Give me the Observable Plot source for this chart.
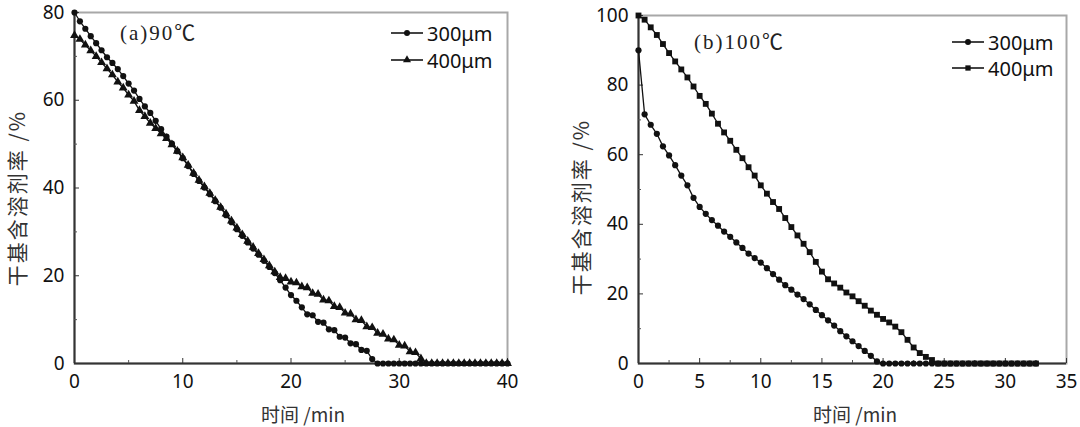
<!DOCTYPE html>
<html><head><meta charset="utf-8">
<script src="https://cdn.jsdelivr.net/npm/d3@7"></script>
<script src="https://cdn.jsdelivr.net/npm/@observablehq/plot@0.6"></script>
<style>
html,body{margin:0;padding:0;background:#fff;}
#wrap{display:flex;width:1080px;height:427px;overflow:hidden;}
#wrap svg{display:block;overflow:visible;}
</style></head><body><div id="wrap"></div>
<script>
// ---- Panel (a) 90℃ ----
const minutesA = [0,0.5,1,1.5,2,2.5,3,3.5,4,4.5,5,5.5,6,6.5,7,7.5,8,8.5,9,9.5,10,10.5,11,11.5,12,12.5,13,13.5,14,14.5,15,15.5,16,16.5,17,17.5,18,18.5,19,19.5,20,20.5,21,21.5,22,22.5,23,23.5,24,24.5,25,25.5,26,26.5,27,27.5,28,28.5,29,29.5,30,30.5,31,31.5,32,32.5,33,33.5,34,34.5,35,35.5,36,36.5,37,37.5,38,38.5,39,39.5,40];
const a300 = [80,78.0,76.3,74.6,73.0,71.4,69.8,68.5,67.1,65.5,63.8,62.2,60.3,58.6,57.1,55.3,53.4,51.7,50.1,48.4,46.8,45.0,43.2,41.6,40.1,38.6,37.0,35.5,33.8,32.2,30.6,29.1,27.6,26.2,24.8,23.4,22.0,20.6,19.0,17.3,15.6,14.3,12.8,11.2,11.0,9.5,9.3,7.8,7.6,6.1,5.9,4.6,4.4,3.1,2.9,1.0,0,0,0,0,0,0,0,0,0,0,0,0,0,0,0,0,0,0,0,0,0,0,0,0,0];
const a400 = [74.8,73.9,72.6,71.3,70.0,68.6,67.2,65.8,64.2,62.8,61.2,59.8,57.7,56.3,54.8,53.6,52.4,51.3,49.9,48.4,46.9,45.2,43.4,41.8,40.3,38.8,37.2,35.6,34.1,32.5,30.9,29.4,27.9,26.5,25.1,23.7,22.3,20.9,19.6,19.4,18.6,18.4,17.5,17.3,16.0,15.8,14.5,14.3,13.0,12.8,11.5,11.3,10.0,9.8,8.4,8.2,6.9,6.7,5.6,5.4,4.2,4.0,2.7,2.5,1.1,0,0,0,0,0,0,0,0,0,0,0,0,0,0,0,0];
const xTicksA = [0,10,20,30,40];
const xMinorA = [5,15,25,35];
const yTicksA = [0,20,40,60,80];
const yMinorA = [10,30,50,70];

// ---- Panel (b) 100℃ ----
const minutesB = [0,0.5,1,1.5,2,2.5,3,3.5,4,4.5,5,5.5,6,6.5,7,7.5,8,8.5,9,9.5,10,10.5,11,11.5,12,12.5,13,13.5,14,14.5,15,15.5,16,16.5,17,17.5,18,18.5,19,19.5,20,20.5,21,21.5,22,22.5,23,23.5,24,24.5,25,25.5,26,26.5,27,27.5,28,28.5,29,29.5,30,30.5,31,31.5,32,32.5];
const b300 = [90,71.6,68.6,66.0,62.4,59.8,57.0,54.0,51.2,47.6,45.0,43.0,41.2,39.6,37.9,36.4,34.8,33.2,31.6,30.3,29.0,27.4,25.7,24.1,22.5,21.2,19.8,18.5,17.0,15.4,13.9,12.4,10.9,9.3,7.8,6.4,5.0,3.6,2.2,0.6,0,0,0,0,0,0,0,0,0,0,0,0,0,0,0,0,0,0,0,0,0,0,0,0,0,0];
const b400 = [100,98.8,96.6,94.4,91.8,89.2,86.8,84.5,82.2,79.6,76.9,74.6,71.8,68.9,66.4,64.0,61.4,59.0,56.4,54.0,51.2,48.8,46.4,44.4,41.8,39.2,36.8,34.4,32.0,29.2,26.4,24.2,23.0,21.8,20.4,19.3,17.9,16.6,15.2,14.0,12.8,11.8,10.6,9.0,6.8,4.6,3.0,1.9,1.0,0,0,0,0,0,0,0,0,0,0,0,0,0,0,0,0,0];
const xTicksB = [0,5,10,15,20,25,30,35];
const xMinorB = [2.5,7.5,12.5,17.5,22.5,27.5,32.5];
const yTicksB = [0,20,40,60,80,100];
const yMinorB = [10,30,50,70,90];

// ---- Text ----
const seriesNames = ["300μm","400μm"];
const titleA = "(a)90℃";
const titleB = "(b)100℃";
const xLabel = "时间 /min";
const yLabel = "干基含溶剂率 /%";

const INK = "#111";
const SANS = "'Noto Sans', 'Noto Sans CJK SC', sans-serif";
const CJK = "'Noto Sans CJK SC', sans-serif";

function panel(cfg) {
  const d300 = cfg.times.map((t, i) => ({t, v: cfg.s300[i]}));
  const d400 = cfg.times.map((t, i) => ({t, v: cfg.s400[i]}));
  const svg = Plot.plot({
    width: 540, height: 427,
    marginLeft: cfg.ml, marginRight: cfg.mr, marginTop: cfg.mt, marginBottom: cfg.mb,
    x: {domain: cfg.xDomain, axis: null},
    y: {domain: cfg.yDomain, axis: null},
    style: {fontFamily: SANS, fontSize: "19px", color: INK, background: "transparent", overflow: "visible"},
    marks: [
      Plot.frame({stroke: "#a8a8a8", strokeWidth: 2}),
      Plot.ruleX([cfg.xDomain[0]], {stroke: "#333", strokeWidth: 2}),
      Plot.ruleY([cfg.yDomain[0]], {stroke: "#333", strokeWidth: 2}),
      Plot.axisX(cfg.xT, {anchor: "bottom", tickSize: 5, dy: -5, tickFormat: () => "", label: null, color: "#333"}),
      Plot.axisX(cfg.xM, {anchor: "bottom", tickSize: 3, dy: -3, tickFormat: () => "", label: null, color: "#555"}),
      Plot.axisX(cfg.xT, {anchor: "bottom", tickSize: 0, tickPadding: 11, label: null, fontSize: 19, color: INK}),
      Plot.axisY(cfg.yT, {anchor: "left", tickSize: 5, dx: 5, tickFormat: () => "", label: null, color: "#333"}),
      Plot.axisY(cfg.yM, {anchor: "left", tickSize: 3, dx: 3, tickFormat: () => "", label: null, color: "#555"}),
      Plot.axisY(cfg.yT, {anchor: "left", tickSize: 0, tickPadding: 10, label: null, fontSize: 19, color: INK}),
      Plot.line(d300, {x: "t", y: "v", stroke: INK, strokeWidth: 1.3}),
      Plot.dot(d300, {x: "t", y: "v", symbol: "circle", r: 3.1, fill: INK, stroke: null}),
      Plot.line(d400, {x: "t", y: "v", stroke: INK, strokeWidth: 1.3}),
      Plot.dot(d400, {x: "t", y: "v", symbol: cfg.sym400, r: 3.3, fill: INK, stroke: null})
    ]
  });
  const s = d3.select(svg);
  // title
  s.append("text").attr("x", cfg.titleX).attr("y", cfg.titleY)
    .attr("text-anchor", "start").attr("dominant-baseline", "central")
    .style("font-family", "'Liberation Serif', 'Noto Sans CJK SC', serif")
    .style("font-size", "21px").style("letter-spacing", "2px").attr("fill", "#222").text(cfg.title);
  // legend
  const syms = [d3.symbolCircle, cfg.sym400 === "triangle" ? d3.symbolTriangle : d3.symbolSquare];
  seriesNames.forEach((name, i) => {
    const y = cfg.legY + i * cfg.legDy;
    const g = s.append("g");
    g.append("line").attr("x1", cfg.legX).attr("x2", cfg.legX + 32).attr("y1", y).attr("y2", y)
      .attr("stroke", "#444").attr("stroke-width", 2);
    g.append("path").attr("transform", `translate(${cfg.legX + 16},${y})`)
      .attr("d", d3.symbol(syms[i], 28)()).attr("fill", INK);
    g.append("text").attr("x", cfg.legX + 36).attr("y", y)
      .attr("text-anchor", "start").attr("dominant-baseline", "central")
      .style("font-family", SANS).style("font-size", "20px").attr("fill", INK).text(name);
  });
  // axis labels
  s.append("text").attr("x", cfg.xLabX).attr("y", 413).attr("text-anchor", "middle")
    .attr("dominant-baseline", "central")
    .style("font-family", CJK).style("font-size", "19px").attr("fill", "#333").text(xLabel);
  s.append("text").attr("transform", `translate(${cfg.yLabX},${cfg.yLabY}) rotate(-90)`)
    .attr("text-anchor", "middle").attr("dominant-baseline", "central")
    .style("font-family", CJK).style("font-size", "21px").style("letter-spacing", "2px")
    .attr("fill", "#333").text(yLabel);
  return svg;
}

const wrap = document.getElementById("wrap");
wrap.appendChild(panel({
  times: minutesA, s300: a300, s400: a400, sym400: "triangle",
  xDomain: [0, 40], yDomain: [0, 80],
  xT: xTicksA, xM: xMinorA, yT: yTicksA, yM: yMinorA,
  ml: 74, mr: 33, mt: 12, mb: 64,
  title: titleA, titleX: 120, titleY: 33,
  legX: 391, legY: 33, legDy: 27,
  xLabX: 303, yLabX: 16, yLabY: 198
}));
wrap.appendChild(panel({
  times: minutesB, s300: b300, s400: b400, sym400: "square",
  xDomain: [0, 35], yDomain: [0, 100],
  xT: xTicksB, xM: xMinorB, yT: yTicksB, yM: yMinorB,
  ml: 98, mr: 14, mt: 15, mb: 64,
  title: titleB, titleX: 154, titleY: 42,
  legX: 412, legY: 42, legDy: 26,
  xLabX: 315, yLabX: 40, yLabY: 207
}));
</script></body></html>
